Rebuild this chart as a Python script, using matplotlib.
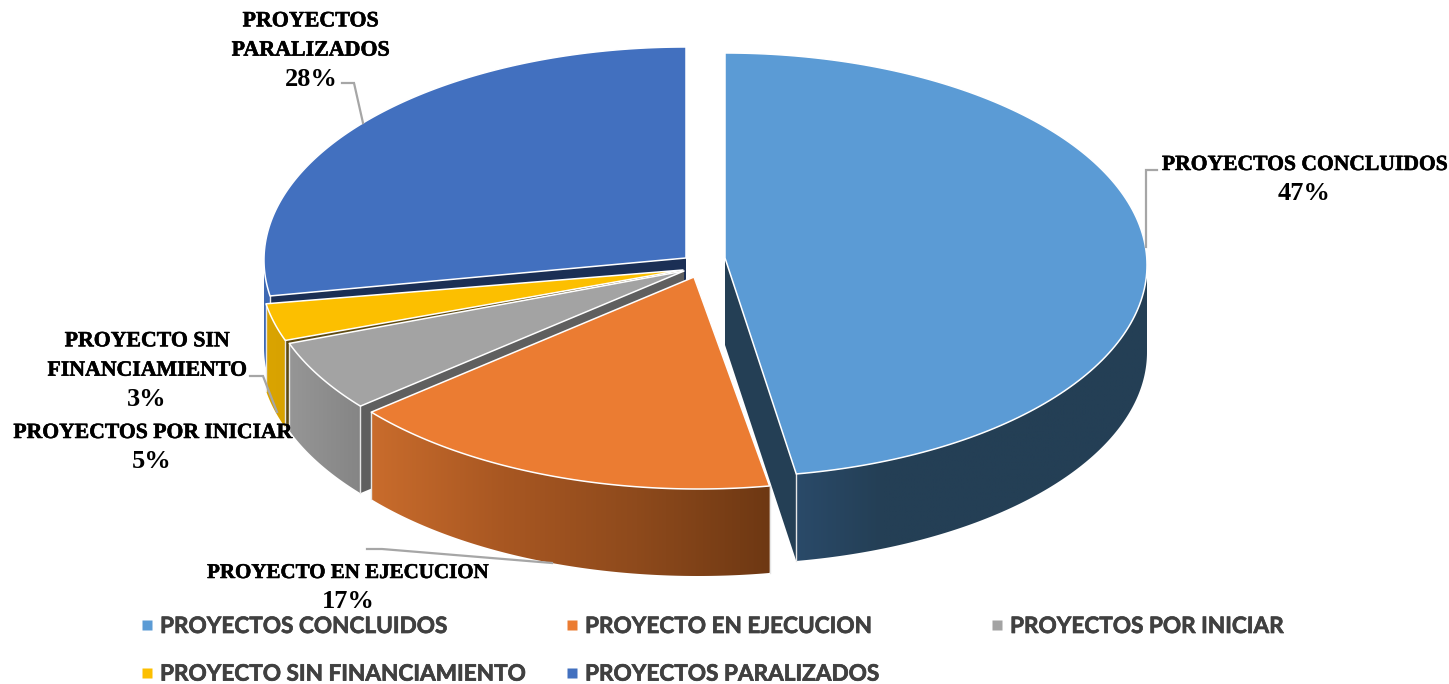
import numpy as np
import matplotlib
matplotlib.use("Agg")
import matplotlib.pyplot as plt
import matplotlib.patheffects as pe
from matplotlib.patches import Polygon
from matplotlib.colors import LinearSegmentedColormap
from matplotlib.lines import Line2D

# ---- data ----
categories = ["PROYECTOS CONCLUIDOS", "PROYECTO EN EJECUCION", "PROYECTOS POR INICIAR",
              "PROYECTO SIN FINANCIAMIENTO", "PROYECTOS PARALIZADOS"]
values = [47.3, 16.7, 5.45, 2.85, 27.7]
wrapped_labels = ["PROYECTOS CONCLUIDOS", "PROYECTO EN EJECUCION", "PROYECTOS POR INICIAR",
                  "PROYECTO SIN\nFINANCIAMIENTO", "PROYECTOS\nPARALIZADOS"]

# ---- styles / layout ----
top_colors = ["#5B9BD5", "#EB7C32", "#A3A3A3", "#FCBF00", "#4270BF"]
face_colors = ["#243F55", "#8A4A1C", "#5F5F5F", "#5E4A10", "#1B2F55"]
rim_stops = [["#2A4A69", "#243F55", "#243F55", "#243F55", "#243F55"],
             ["#C96C2C", "#A85722", "#8E4A1C", "#6E3813"],
             ["#969696", "#858585"],
             ["#DAA400", "#D8A200"],
             ["#3E69B4", "#3E69B4"]]
centers = [(725, 265), (698, 277), (684, 271), (680, 268), (686, 260)]
apexes = [(725, 258), (694, 277), (684, 271), (683, 270), (686, 258)]
radii = [(422, 212), (424, 212), (420, 212), (420, 212), (422, 213)]
depth = 87
draw_order = [4, 3, 2, 1, 0]
name_xy = [(1304.5, 165), (348, 573), (152, 433), (147, 356), (311, 36)]
pct_xy = [(1304.5, 194), (348, 602), (152, 462), (147, 399), (311, 79)]
name_sizes = [15.55, 15.1, 15.6, 15.7, 15.8]
pct_size = 19
leaders = [[(1146, 247), (1146, 170), (1157, 170)],
           [(367, 549), (382, 549), (552, 563)],
           None,
           [(250, 376), (263, 376), (277, 412)],
           [(363, 123), (354, 83), (342, 83)]]
serif = "Liberation Serif"
sans = "Lato"

fig = plt.figure(figsize=(14.49, 6.84), dpi=100)
ax = fig.add_axes([0, 0, 1, 1])
ax.set_axis_off()


def arc(c, r, a0, a1, n=160, dy=0):
    t = np.radians(np.linspace(a0, a1, n))
    return np.column_stack([c[0] + r[0] * np.sin(t), c[1] - r[1] * np.cos(t) + dy])


edges = np.concatenate([[0], np.cumsum(values)]) / np.sum(values) * 360
for k, i in enumerate(draw_order):
    z = 10 * (k + 1)
    a0, a1 = edges[i], edges[i + 1]
    c, ap, r = centers[i], apexes[i], radii[i]
    # radial cut faces
    for a in (a0, a1):
        p = arc(c, r, a, a, 1)[0]
        ax.add_patch(Polygon([ap, p, (p[0], p[1] + depth), (ap[0], ap[1] + depth)],
                             closed=True, fc=face_colors[i], ec="none", zorder=z))
    # outer rim with horizontal gradient
    v0, v1 = max(a0, 90), min(a1, 270)
    if v1 > v0:
        up = arc(c, r, v0, v1)
        low = arc(c, r, v0, v1, dy=depth)
        rim = Polygon(np.vstack([up, low[::-1]]), closed=True, fc="none", ec="none", zorder=z + 1)
        ax.add_patch(rim)
        x0, x1 = up[:, 0].min(), up[:, 0].max()
        y0, y1 = up[:, 1].min(), low[:, 1].max()
        cmap = LinearSegmentedColormap.from_list(f"rim{i}", rim_stops[i])
        im = ax.imshow(np.linspace(0, 1, 256)[None, :], cmap=cmap, aspect="auto",
                       extent=(x0, x1, y1, y0), zorder=z + 1, interpolation="bilinear")
        im.set_clip_path(rim)
        for a in (a0, a1):
            if 90 < a < 270:
                p = arc(c, r, a, a, 1)[0]
                ax.plot([p[0], p[0]], [p[1], p[1] + depth], color="#E6E6E6", lw=1, zorder=z + 2)
    # top surface
    ax.add_patch(Polygon(np.vstack([[ap], arc(c, r, a0, a1)]), closed=True,
                         fc=top_colors[i], ec="white", lw=1.1, joinstyle="round", zorder=z + 3))

ax.set_xlim(0, 1449)
ax.set_ylim(684, 0)

# leaders
for pts in leaders:
    if pts:
        xs, ys = zip(*pts)
        ax.plot(xs, ys, color="#A6A6A6", lw=1.6, zorder=80, solid_joinstyle="miter")

# data labels: name, then a larger percentage
heavier = [pe.withStroke(linewidth=0.4, foreground="black")]
for name, v, nxy, pxy, fs in zip(wrapped_labels, values, name_xy, pct_xy, name_sizes):
    spacing = 28.5 / (1.116 * fs)
    ax.text(*nxy, name, ha="center", va="center", family=serif, fontweight="bold",
            fontsize=fs, color="black", linespacing=spacing, zorder=90, path_effects=heavier)
    ax.text(*pxy, f"{round(v)}%", ha="center", va="center", family=serif, fontweight="bold",
            fontsize=pct_size, color="black", zorder=90)


# legend: one column each so that column positions follow the chart
def col_handle(i):
    return Line2D([], [], ls="none", marker="s", ms=7.5, mfc=top_colors[i], mec="none")


columns = [([0, 3], 137), ([1, 4], 562), ([2], 987)]
for idx, xpos in columns:
    leg = ax.legend([col_handle(i) for i in idx], [categories[i] for i in idx],
                    loc="upper left", bbox_to_anchor=(xpos, 616), bbox_transform=ax.transData,
                    frameon=False, borderpad=0, borderaxespad=0, handlelength=0.9,
                    handletextpad=0.12, labelspacing=1.18,
                    prop={"family": sans, "weight": "bold", "size": 16.25}, labelcolor="#404040")
    for t in leg.get_texts():
        t.set_path_effects([pe.withStroke(linewidth=0.5, foreground="#404040")])
    leg.set_zorder(95)
    ax.add_artist(leg)
ax.legend_ = None

fig.savefig("out.png", dpi=100)
